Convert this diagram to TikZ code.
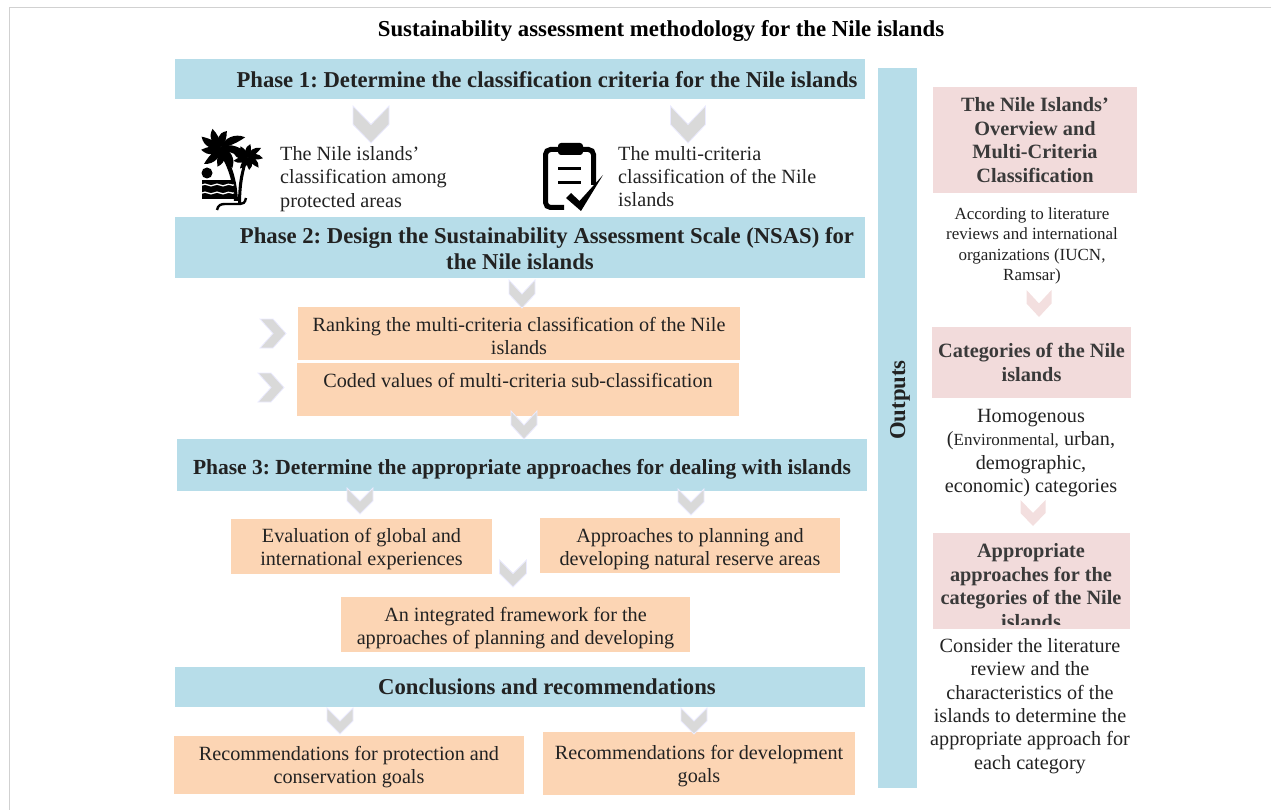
\documentclass[tikz,border=0pt]{standalone}
\usepackage{fontspec}
\setmainfont{Liberation Serif}
\usepackage{xcolor}
\usetikzlibrary{positioning}
\definecolor{phaseblue}{HTML}{B7DDE9}
\definecolor{steporange}{HTML}{FCD5B4}
\definecolor{outpink}{HTML}{F2DBDB}
\definecolor{inkdark}{HTML}{222222}
\definecolor{inkpink}{HTML}{3A3A3A}
\tikzset{
    phasebox/.style={rectangle,fill=phaseblue,inner sep=0pt,align=center,text=inkdark,font=\fontsize{22.7}{26}\selectfont\bfseries},
    stepbox/.style={rectangle,fill=steporange,inner sep=0pt,align=center,text=inkdark,font=\fontsize{20.2}{23}\selectfont},
    pinkbox/.style={rectangle,fill=outpink,inner sep=0pt,align=center,text=inkpink,font=\fontsize{20.3}{23.5}\selectfont\bfseries},
    plaintext/.style={inner sep=0pt,align=center,text=inkdark,font=\fontsize{20.2}{23.3}\selectfont},
    chevgray/.style={fill=black!15,draw=blue!8,line width=0.8pt},
    chevpink/.style={fill=outpink!90!white}
}
\newcommand{\chevdown}[5]{\path[#1] ({#2-#4/2},#3) -- (#2,{#3+#5*0.5}) -- ({#2+#4/2},#3) -- ({#2+#4/2},{#3+#5*0.5}) -- (#2,{#3+#5}) -- ({#2-#4/2},{#3+#5*0.5}) -- cycle;}
\newcommand{\chevright}[5]{\path[#1] (#2,{#3-#5/2}) -- ({#2+#4*0.5},#3) -- (#2,{#3+#5/2}) -- ({#2+#4*0.5},{#3+#5/2}) -- ({#2+#4},#3) -- ({#2+#4*0.5},{#3-#5/2}) -- cycle;}
% first line of a box, pushed down by half of the extra height
\newcommand{\dropline}[1]{\rule{0pt}{\dimexpr 15pt+#1pt\relax}}

\begin{document}
\frenchspacing
\begin{tikzpicture}[x=1pt,y=-1pt]
    \useasboundingbox (0,0) rectangle (1271,810);
    % Frame
    \draw[black!18,line width=1.5pt] (9.5,810) -- (9.5,7.5) -- (1271,7.5);

    % Title
    \node[plaintext,font=\fontsize{22.8}{26}\selectfont\bfseries,text=black] (title) at (661,31) {Sustainability assessment methodology for the Nile islands};

    % Left column
    \node[phasebox,minimum width=690,minimum height=40] (phaseone) at (520,79.5) {\hspace*{54pt}Phase 1: Determine the classification criteria for the Nile islands};
    \node[plaintext,font=\fontsize{20.2}{23.6}\selectfont,align=left,anchor=north west] (textpalm) at (280,146) {The Nile islands’\\classification among\\protected areas};
    \node[plaintext,align=left,anchor=north west] (textclip) at (618,146) {The multi-criteria\\classification of the Nile\\islands};
    \node[phasebox,minimum width=690,minimum height=61] (phasetwo) at (520,247.5) {\dropline{4}\hspace*{54pt}Phase 2: Design the Sustainability Assessment Scale (NSAS) for\\the Nile islands};
    \node[stepbox,minimum width=442,minimum height=53] (ranking) at (519,333.5) {\dropline{4}Ranking the multi-criteria classification of the Nile\\islands};
    \node[stepbox,minimum width=442,minimum height=53] (coded) at (518,389.5) {\dropline{4}Coded values of multi-criteria sub-classification\\\mbox{}};
    \node[phasebox,font=\fontsize{21.5}{26}\selectfont\bfseries,minimum width=690,minimum height=52] (phasethree) at (522,465) {\dropline{8}Phase 3: Determine the appropriate approaches for dealing with islands};
    \node[stepbox,minimum width=261,minimum height=55] (evaluation) at (361.5,546.5) {\dropline{4}Evaluation of global and\\international experiences};
    \node[stepbox,minimum width=300,minimum height=55] (planning) at (690,545.5) {\dropline{7}Approaches to planning and\\developing natural reserve areas};
    \node[stepbox,minimum width=349,minimum height=55] (framework) at (515.5,624.5) {\dropline{6}An integrated framework for the\\approaches of planning and developing};
    \node[phasebox,minimum width=690,minimum height=40] (conclusions) at (520,687) {\hspace*{54pt}Conclusions and recommendations};
    \node[stepbox,minimum width=350,minimum height=58] (protection) at (349,765) {\dropline{3}Recommendations for protection and\\conservation goals};
    \node[stepbox,minimum width=312,minimum height=63] (development) at (699,763.5) {\dropline{4}Recommendations for development\\goals};

    % Outputs
    \node[phasebox,minimum width=39,minimum height=720] (outbar) at (897.5,428) {};
    \node[phasebox,fill=none,rotate=90] (outlabel) at (900,400) {Outputs};

    % Right column
    \node[pinkbox,minimum width=204,minimum height=106] (overview) at (1035,140) {The Nile Islands’\\Overview and\\Multi-Criteria\\Classification};
    \node[plaintext,font=\fontsize{17}{20.4}\selectfont] (literature) at (1032,246) {According to literature\\reviews and international\\organizations (IUCN,\\Ramsar)};
    \node[pinkbox,minimum width=199,minimum height=71] (categories) at (1031.5,362.5) {Categories of the Nile\\islands};
    \node[plaintext] (homogenous) at (1031,453) {Homogenous\\({\fontsize{17}{20}\selectfont Environmental,} urban,\\demographic,\\economic) categories};
    \node[pinkbox,minimum width=197,minimum height=96] (approaches) at (1031.5,581) {};
    \begin{scope}
        \clip (930,530) rectangle (1135,624.5);
        \node[pinkbox,fill=none] (approachtext) at (1031,586) {Appropriate\\approaches for the\\categories of the Nile\\islands};
    \end{scope}
    \node[plaintext] (consider) at (1030,706) {Consider the literature\\review and the\\characteristics of the\\islands to determine the\\appropriate approach for\\each category};

    % Chevrons
    \foreach \cx/\cy/\cw/\ch in {371/106/36/37,688/106/35/37,522/280/26/28,524/411/26/28,360/488/26/26,691/489/26/26,513/560/27/27,340/708/26/26,694/708/26/26}{
        \chevdown{chevgray}{\cx}{\cy}{\cw}{\ch}
    }
    \chevright{chevgray}{260}{333.5}{26}{29}
    \chevright{chevgray}{258}{387.5}{26}{29}
    \chevdown{chevpink}{1039}{290}{25}{27}
    \chevdown{chevpink}{1033}{500}{25}{26}

    % Palm icon
    \foreach \ang/\len in {-172/20,-135/24,-100/20,-62/24,-20/30,22/26,70/17,115/20,152/22}
        \fill[rotate around={\ang:(221,147)}] (221,147) .. controls (227,140) and ({221+\len*0.7},139) .. ({221+\len},147) .. controls ({221+\len*0.7},149) and (227,150) .. (221,147) -- cycle;
    \foreach \ang/\len in {-165/15,-125/14,-85/13,-45/15,-5/15,35/16,80/13,125/13,165/15}
        \fill[rotate around={\ang:(248,157)}] (248,157) .. controls (252,152) and ({248+\len*0.7},152) .. ({248+\len},157) .. controls ({248+\len*0.7},159) and (252,160) .. (248,157) -- cycle;
    \fill (223,150) .. controls (232,165) and (237,180) .. (238,201) -- (234,201) .. controls (233,180) and (227,165) .. (219,152) -- cycle;
    \fill (247,160) .. controls (245,170) and (241,180) .. (241,205) -- (238,205) .. controls (238,178) and (242,168) .. (245,160) -- cycle;
    \fill (207,173) circle (5.5);
    \fill (202,180) -- (234,180) -- (234,199) -- (202,199) -- cycle;
    \foreach \wy in {185,193}
        \draw[white,line width=1.3pt] (202,\wy) .. controls (206,{\wy-3}) and (210,{\wy+3}) .. (214,\wy) .. controls (218,{\wy-3}) and (222,{\wy+3}) .. (226,\wy) .. controls (229,{\wy-2}) and (232,{\wy+1}) .. (234,\wy);
    \draw[line width=2.4pt] (217,210) .. controls (218,205) and (221,204) .. (225,204) -- (240,204) .. controls (243,204) and (245,203) .. (246,198);

    % Clipboard icon
    \draw[line width=5pt,rounded corners=5pt] (593.5,185) -- (593.5,149.5) -- (545.5,149.5) -- (545.5,207.5) -- (564,207.5);
    \fill[rounded corners=3pt] (558,143) rectangle (583,155);
    \draw[line width=3pt] (558,169) -- (581,169);
    \draw[line width=3pt] (558,183) -- (581,183);
    \fill (566,198) -- (571,193) -- (579.5,201) -- (603,175) -- (581,211) -- cycle;
\end{tikzpicture}
\end{document}
